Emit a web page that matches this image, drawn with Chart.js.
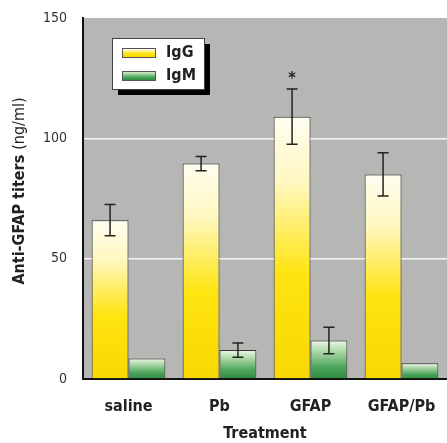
<!DOCTYPE html>
<html>
<head>
<meta charset="utf-8">
<script src="https://cdn.jsdelivr.net/npm/chart.js@4/dist/chart.umd.min.js"></script>
<style>
  html, body { margin: 0; padding: 0; background: #fff; overflow: hidden; }
</style>
</head>
<body>
<canvas id="chartCanvas" width="447" height="443"></canvas>
<script>
const categories = ["saline", "Pb", "GFAP", "GFAP/Pb"];
const igG = [66, 89.5, 109, 85];
const igGErr = [6.5, 3, 11.5, 9];
const igM = [8.5, 12, 16, 6.5];
const igMErr = [0, 3, 5.5, 0];
const igGMarks = ["", "", "*", ""];
const yTicks = [0, 50, 100, 150];

const FONT = "'Liberation Sans Narrow', 'DejaVu Sans Condensed', 'Arial Narrow', sans-serif";
const CLEAR = 'rgba(0,0,0,0)';

function gradFor(chart, kind, top, bottom){
    const g = chart.ctx.createLinearGradient(0, top, 0, bottom);
    if(kind === 'IgG'){
        g.addColorStop(0, '#fffdf0');
        g.addColorStop(0.25, '#fff8c0');
        g.addColorStop(0.6, '#ffe410');
        g.addColorStop(1, '#f8d800');
    } else {
        g.addColorStop(0, '#eef6ea');
        g.addColorStop(0.3, '#a8d6a4');
        g.addColorStop(0.7, '#4aa55a');
        g.addColorStop(1, '#2f8a40');
    }
    return g;
}

function barFill(kind, solid){
    return function(ctx){
        const chart = ctx.chart;
        if(!chart.chartArea || ctx.type !== 'data') return solid;
        const ys = chart.scales.y;
        return gradFor(chart, kind, ys.getPixelForValue(ctx.raw), ys.getPixelForValue(0));
    };
}

// error bars + asterisk
const errorBars = {
    id: 'errorBars',
    afterDatasetsDraw(chart){
        const c = chart.ctx, ys = chart.scales.y;
        chart.data.datasets.forEach((ds, i) => {
            const meta = chart.getDatasetMeta(i);
            meta.data.forEach((bar, j) => {
                const e = ds.err[j];
                const v = ds.data[j];
                if(e > 0){
                    const yt = ys.getPixelForValue(v + e), yb = ys.getPixelForValue(v - e);
                    c.save();
                    c.strokeStyle = '#222';
                    c.lineWidth = 1.5;
                    c.beginPath();
                    c.moveTo(bar.x, yt); c.lineTo(bar.x, yb);
                    c.moveTo(bar.x - 5.5, yt); c.lineTo(bar.x + 5.5, yt);
                    c.moveTo(bar.x - 5.5, yb); c.lineTo(bar.x + 5.5, yb);
                    c.stroke();
                    c.restore();
                }
                if(ds.marks && ds.marks[j]){
                    c.save();
                    c.fillStyle = '#222';
                    c.font = 'bold 16px ' + FONT;
                    c.textAlign = 'center';
                    c.textBaseline = 'middle';
                    c.fillText(ds.marks[j], bar.x, ys.getPixelForValue(v + e) - 10);
                    c.restore();
                }
            });
        });
    }
};

// grey plot background + boxed legend + y title
const decor = {
    id: 'decor',
    beforeDraw(chart){
        const {ctx, chartArea: a} = chart;
        ctx.save();
        ctx.fillStyle = '#b6b6b4';
        ctx.fillRect(a.left, a.top, a.right - a.left, a.bottom - a.top);
        ctx.restore();
    },
    afterDraw(chart){
        const {ctx, chartArea: a} = chart;
        // legend
        const lx = a.left + 29, ly = a.top + 20, lw = 92, lh = 51;
        ctx.save();
        ctx.fillStyle = '#000';
        ctx.fillRect(lx + 6, ly + 6, lw, lh);
        ctx.fillStyle = '#fff';
        ctx.fillRect(lx, ly, lw, lh);
        ctx.strokeStyle = '#444';
        ctx.lineWidth = 1;
        ctx.strokeRect(lx + 0.5, ly + 0.5, lw, lh);
        chart.data.datasets.forEach((ds, i) => {
            const sy = ly + 10 + i * 23;
            ctx.fillStyle = gradFor(chart, ds.label, sy, sy + 9);
            ctx.fillRect(lx + 10, sy, 33, 9);
            ctx.strokeStyle = '#555';
            ctx.strokeRect(lx + 10.5, sy + 0.5, 33, 9);
            ctx.fillStyle = '#222';
            ctx.font = 'bold 16px ' + FONT;
            ctx.textBaseline = 'middle';
            ctx.fillText(ds.label, lx + 54, sy + 5);
        });
        // y title, bold part + regular part
        ctx.translate(20, 191);
        ctx.rotate(-Math.PI / 2);
        ctx.textBaseline = 'middle';
        const p1 = 'Anti-GFAP titers ', p2 = '(ng/ml)';
        ctx.font = 'bold 16px ' + FONT;
        const w1 = ctx.measureText(p1).width;
        ctx.font = '16px ' + FONT;
        const w2 = ctx.measureText(p2).width;
        let x = -(w1 + w2) / 2;
        ctx.fillStyle = '#222';
        ctx.font = 'bold 16px ' + FONT;
        ctx.fillText(p1, x, 0);
        ctx.font = '16px ' + FONT;
        ctx.fillText(p2, x + w1, 0);
        ctx.restore();
    }
};

const data = {
    labels: categories,
    datasets: [
        {
            label: "IgG",
            data: igG,
            err: igGErr,
            marks: igGMarks,
            backgroundColor: barFill('IgG', '#ffe410'),
            borderColor: '#333',
            borderWidth: 1,
            categoryPercentage: 0.81,
            barPercentage: 1
        },
        {
            label: "IgM",
            data: igM,
            err: igMErr,
            backgroundColor: barFill('IgM', '#4aa55a'),
            borderColor: '#333',
            borderWidth: 1,
            categoryPercentage: 0.81,
            barPercentage: 1
        }
    ]
};

const config = {
    type: 'bar',
    data: data,
    options: {
        responsive: false,
        animation: false,
        layout: { padding: { top: 18, right: 0, left: 0, bottom: 0 } },
        plugins: {
            legend: { display: false },
            tooltip: { enabled: false }
        },
        scales: {
            x: {
                grid: { display: true, drawOnChartArea: false, color: CLEAR, tickColor: CLEAR, tickLength: 16 },
                border: { display: true, color: '#111', width: 2 },
                ticks: {
                    color: '#222',
                    padding: 2,
                    font: { family: FONT, size: 16, weight: 'bold' }
                },
                title: {
                    display: true,
                    text: 'Treatment',
                    color: '#222',
                    padding: { top: 6, bottom: 0 },
                    font: { family: FONT, size: 16, weight: 'bold' }
                },
                afterFit(scale){ scale.height = 64; }
            },
            y: {
                min: 0,
                max: 150,
                afterBuildTicks(scale){ scale.ticks = yTicks.map(v => ({ value: v })); },
                grid: {
                    tickLength: 14,
                    tickColor: CLEAR,
                    lineWidth: 1.5,
                    color: ctx => (ctx.tick && (ctx.tick.value === 50 || ctx.tick.value === 100)) ? '#f4f4f4' : CLEAR
                },
                border: { display: true, color: '#111', width: 2 },
                ticks: {
                    color: '#333',
                    padding: 2,
                    font: { family: FONT, size: 14 }
                },
                afterFit(scale){ scale.width = 83; }
            }
        }
    },
    plugins: [decor, errorBars]
};

let myChart = new Chart(document.getElementById('chartCanvas'), config);
</script>
</body>
</html>
